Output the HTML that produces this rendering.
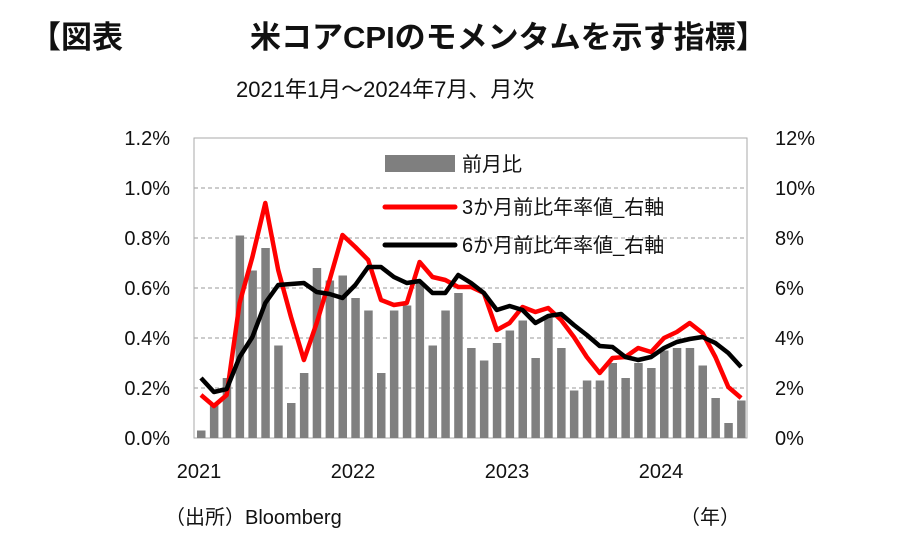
<!DOCTYPE html>
<html><head><meta charset="utf-8"><style>
body{margin:0;background:#fff;}
svg text{font-family:"Liberation Sans","Noto Sans CJK JP",sans-serif;fill:#111;}
</style></head><body>
<svg width="899" height="545" viewBox="0 0 899 545" xmlns="http://www.w3.org/2000/svg">
<text x="30" y="48" font-size="31" font-weight="bold">【図表</text>
<text x="250" y="48" font-size="31" font-weight="bold">米コアCPIのモメンタムを示す指標】</text>
<text x="236" y="97" font-size="22">2021年1月～2024年7月、月次</text>
<g stroke="#999" stroke-width="1" stroke-dasharray="4,3">
<line x1="194" y1="188" x2="747" y2="188"/><line x1="194" y1="238" x2="747" y2="238"/>
<line x1="194" y1="288" x2="747" y2="288"/><line x1="194" y1="338" x2="747" y2="338"/>
<line x1="194" y1="388" x2="747" y2="388"/>
</g>
<rect x="194" y="138" width="553" height="300" fill="none" stroke="#aaa" stroke-width="1"/>
<g fill="#7f7f7f">
<rect x="197.0" y="430.5" width="8.5" height="7.5"/>
<rect x="209.9" y="403" width="8.5" height="35"/>
<rect x="222.7" y="378" width="8.5" height="60"/>
<rect x="235.6" y="235.5" width="8.5" height="202.5"/>
<rect x="248.4" y="270.5" width="8.5" height="167.5"/>
<rect x="261.3" y="248" width="8.5" height="190"/>
<rect x="274.2" y="345.5" width="8.5" height="92.5"/>
<rect x="287.0" y="403" width="8.5" height="35"/>
<rect x="299.9" y="373" width="8.5" height="65"/>
<rect x="312.7" y="268" width="8.5" height="170"/>
<rect x="325.6" y="280.5" width="8.5" height="157.5"/>
<rect x="338.5" y="275.5" width="8.5" height="162.5"/>
<rect x="351.3" y="298" width="8.5" height="140"/>
<rect x="364.2" y="310.5" width="8.5" height="127.5"/>
<rect x="377.0" y="373" width="8.5" height="65"/>
<rect x="389.9" y="310.5" width="8.5" height="127.5"/>
<rect x="402.8" y="305.5" width="8.5" height="132.5"/>
<rect x="415.6" y="283" width="8.5" height="155"/>
<rect x="428.5" y="345.5" width="8.5" height="92.5"/>
<rect x="441.3" y="310.5" width="8.5" height="127.5"/>
<rect x="454.2" y="293" width="8.5" height="145"/>
<rect x="467.1" y="348" width="8.5" height="90"/>
<rect x="479.9" y="360.5" width="8.5" height="77.5"/>
<rect x="492.8" y="343" width="8.5" height="95"/>
<rect x="505.6" y="330.5" width="8.5" height="107.5"/>
<rect x="518.5" y="320.5" width="8.5" height="117.5"/>
<rect x="531.4" y="358" width="8.5" height="80"/>
<rect x="544.2" y="318" width="8.5" height="120"/>
<rect x="557.1" y="348" width="8.5" height="90"/>
<rect x="569.9" y="390.5" width="8.5" height="47.5"/>
<rect x="582.8" y="380.5" width="8.5" height="57.5"/>
<rect x="595.7" y="380.5" width="8.5" height="57.5"/>
<rect x="608.5" y="363" width="8.5" height="75"/>
<rect x="621.4" y="378" width="8.5" height="60"/>
<rect x="634.2" y="363" width="8.5" height="75"/>
<rect x="647.1" y="368" width="8.5" height="70"/>
<rect x="660.0" y="350.5" width="8.5" height="87.5"/>
<rect x="672.8" y="348" width="8.5" height="90"/>
<rect x="685.7" y="348" width="8.5" height="90"/>
<rect x="698.5" y="365.5" width="8.5" height="72.5"/>
<rect x="711.4" y="398" width="8.5" height="40"/>
<rect x="724.3" y="423" width="8.5" height="15"/>
<rect x="737.1" y="400.5" width="8.5" height="37.5"/>
</g>
<g font-size="20" text-anchor="end">
<text x="170" y="145">1.2%</text><text x="170" y="195">1.0%</text><text x="170" y="245">0.8%</text>
<text x="170" y="295">0.6%</text><text x="170" y="345">0.4%</text><text x="170" y="395">0.2%</text><text x="170" y="445">0.0%</text>
</g>
<g font-size="20" text-anchor="start">
<text x="775" y="145">12%</text><text x="775" y="195">10%</text><text x="775" y="245">8%</text>
<text x="775" y="295">6%</text><text x="775" y="345">4%</text><text x="775" y="395">2%</text><text x="775" y="445">0%</text>
</g>
<g font-size="20" text-anchor="middle">
<text x="199" y="478">2021</text><text x="353" y="478">2022</text><text x="507" y="478">2023</text><text x="661" y="478">2024</text>
</g>
<text x="165" y="524" font-size="20">（出所）Bloomberg</text>
<text x="680" y="524" font-size="20">（年）</text>
<polyline fill="none" stroke="#ff0000" stroke-width="4.5" stroke-linejoin="round" points="201,395 213.9,406 226.7,395 239.6,303 252.4,257 265.3,203 278.2,270 291,317 303.9,360 316.7,323 329.6,280 342.5,235 355.3,247 368.2,260 381,300 393.9,305 406.8,303 419.6,262 432.5,277 445.3,280 458.2,287 471.1,287 483.9,293 496.8,330 509.6,323 522.5,307 535.4,312 548.2,308 561.1,320 573.9,337 586.8,357 599.7,373 612.5,358 625.4,357 638.2,348 651.1,352 664,338 676.8,332 689.7,323 702.5,333 715.4,357 728.3,387 741.1,398"/>
<polyline fill="none" stroke="#000" stroke-width="4.5" stroke-linejoin="round" points="201,378 213.9,392 226.7,389 239.6,357 252.4,337 265.3,303 278.2,285 291,284 303.9,283 316.7,292 329.6,294 342.5,298 355.3,285 368.2,267 381,267 393.9,277 406.8,283 419.6,281 432.5,293 445.3,293 458.2,275 471.1,283 483.9,293 496.8,310 509.6,306 522.5,310 535.4,323 548.2,316 561.1,314 573.9,325 586.8,335 599.7,346 612.5,347 625.4,357 638.2,360 651.1,357 664,348 676.8,342 689.7,339 702.5,337 715.4,343 728.3,353 741.1,367"/>
<rect x="385" y="155" width="70" height="17" fill="#7f7f7f"/>
<text x="462" y="171" font-size="20">前月比</text>
<line x1="385" y1="207" x2="455" y2="207" stroke="#ff0000" stroke-width="5" stroke-linecap="round"/>
<text x="462" y="214" font-size="20">3か月前比年率値_右軸</text>
<line x1="385" y1="245" x2="455" y2="245" stroke="#000" stroke-width="5" stroke-linecap="round"/>
<text x="462" y="252" font-size="20">6か月前比年率値_右軸</text>
</svg>
</body></html>
